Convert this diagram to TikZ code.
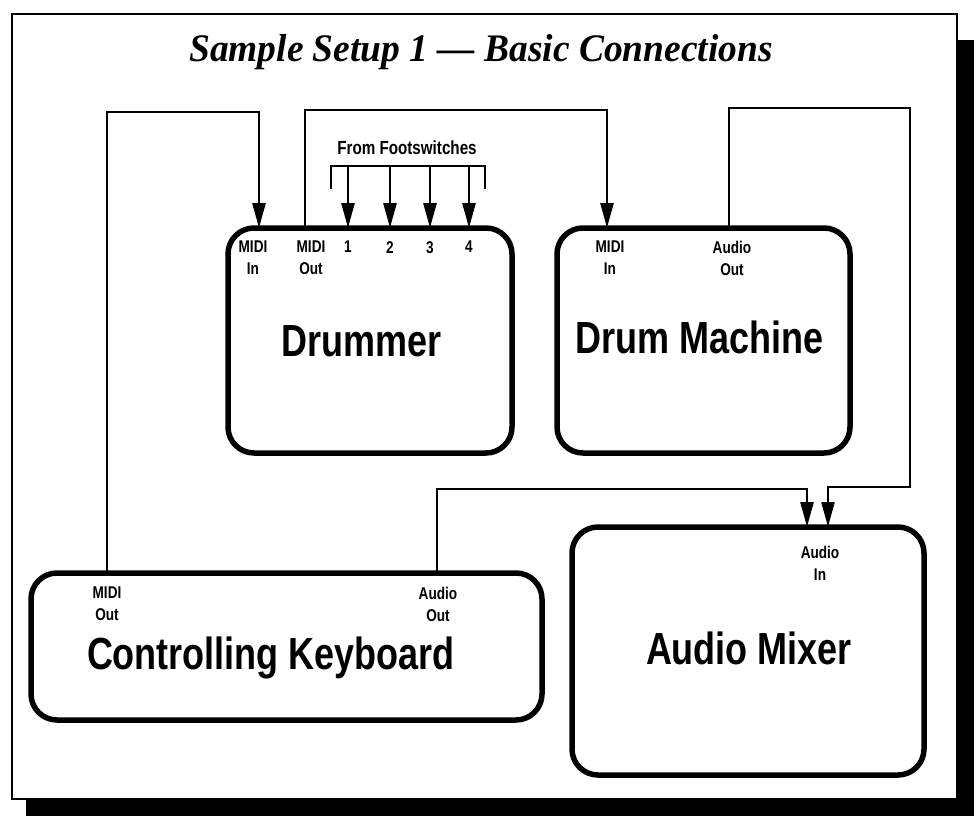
\documentclass[tikz,border=0pt]{standalone}
\usepackage{fontspec}
\setmainfont{Liberation Serif}
\newfontfamily\condfont[FakeStretch=0.8]{Liberation Sans}
\newfontfamily\titlefont[FakeStretch=0.96,Ligatures=TeX]{Liberation Serif}
\usetikzlibrary{arrows.meta}
\begin{document}
\begin{tikzpicture}[x=1pt,y=-1pt,
  device/.style={draw, line width=5.5pt, rounded corners=26pt, anchor=north west, inner sep=0pt, outer sep=0pt},
  conn/.style={line width=2.6pt},
  arr/.style={conn, -{Triangle[length=25pt,width=13pt]}},
  port/.style={font=\condfont\bfseries\fontsize{17}{22}\selectfont, align=center, anchor=north, inner sep=0pt},
  big/.style={font=\condfont\bfseries\fontsize{45}{50}\selectfont, anchor=base, inner sep=0pt},
  ttl/.style={font=\titlefont\bfseries\itshape\fontsize{39}{44}\selectfont, anchor=base, inner sep=0pt}]
\useasboundingbox (0,0) rectangle (979,816);
% shadow and frame
\fill[black] (957,40) rectangle (974,816);
\fill[black] (26,800) rectangle (974,816);
\draw[line width=2pt, fill=white] (12,14) rectangle (957,799);
% title
\node[ttl] (title) at (481,62) {Sample Setup 1 — Basic Connections};
% devices
\node[device, minimum width=284pt, minimum height=225pt] (drum) at (228,228) {};
\node[device, minimum width=293pt, minimum height=225pt] (dm) at (557,228) {};
\node[device, minimum width=511pt, minimum height=147pt] (kb) at (31,573) {};
\node[device, minimum width=352pt, minimum height=248pt] (mix) at (572,527) {};
% device names
\node[big] (drumT) at (362,356) {Drummer};
\node[big] (dmT) at (700,353) {Drum Machine};
\node[big] (kbT) at (271,669) {Controlling Keyboard};
\node[big] (mixT) at (749,664) {Audio Mixer};
% ports
\path (drum.north west) ++(31,0) coordinate (drIn);
\path (drum.north west) ++(77,0) coordinate (drOut);
\path (drum.north west) ++(120,0) coordinate (fs1);
\path (drum.north west) ++(162,0) coordinate (fs2);
\path (drum.north west) ++(202,0) coordinate (fs3);
\path (drum.north west) ++(241,0) coordinate (fs4);
\path (dm.north west) ++(50,0) coordinate (dmIn);
\path (dm.north west) ++(172,0) coordinate (dmOut);
\path (kb.north west) ++(76,0) coordinate (kbMidi);
\path (kb.north west) ++(406,0) coordinate (kbAudio);
\path (mix.north west) ++(235,0) coordinate (mixA);
\path (mix.north west) ++(256,0) coordinate (mixB);
% port labels
\node[port] (lDrIn) at (253,241) {MIDI\\In};
\node[port] (lDrOut) at (311,241) {MIDI\\Out};
\node[port] (l1) at (348,241) {1};
\node[port] (l2) at (390,241) {2};
\node[port] (l3) at (430,241) {3};
\node[port] (l4) at (469,241) {4};
\node[port] (lDmIn) at (610,241) {MIDI\\In};
\node[port] (lDmOut) at (732,241) {Audio\\Out};
\node[port] (lKbMidi) at (107,587) {MIDI\\Out};
\node[port] (lKbAudio) at (438,587) {Audio\\Out};
\node[port] (lMix) at (820,546) {Audio\\In};
% footswitches
\node[port, anchor=base, font=\condfont\bfseries\fontsize{19}{22}\selectfont] (fsT) at (407,154) {From Footswitches};
\draw[conn] (331,189) coordinate (brL) -- (331,166) -- (485,166) -- (485,189) coordinate (brR);
\foreach \p in {fs1,fs2,fs3,fs4}
  \draw[arr] ([yshift=62pt]\p) -- (\p);
% connections
\draw[arr] (kbMidi) -- ++(0,-461) -| (drIn);
\draw[arr] (drOut) -- ++(0,-118) -| (dmIn);
\draw[arr] (dmOut) -- ++(0,-120) -| ++(181,379) -| (mixB);
\draw[arr] (kbAudio) -- ++(0,-84) -| (mixA);
\end{tikzpicture}
\end{document}
